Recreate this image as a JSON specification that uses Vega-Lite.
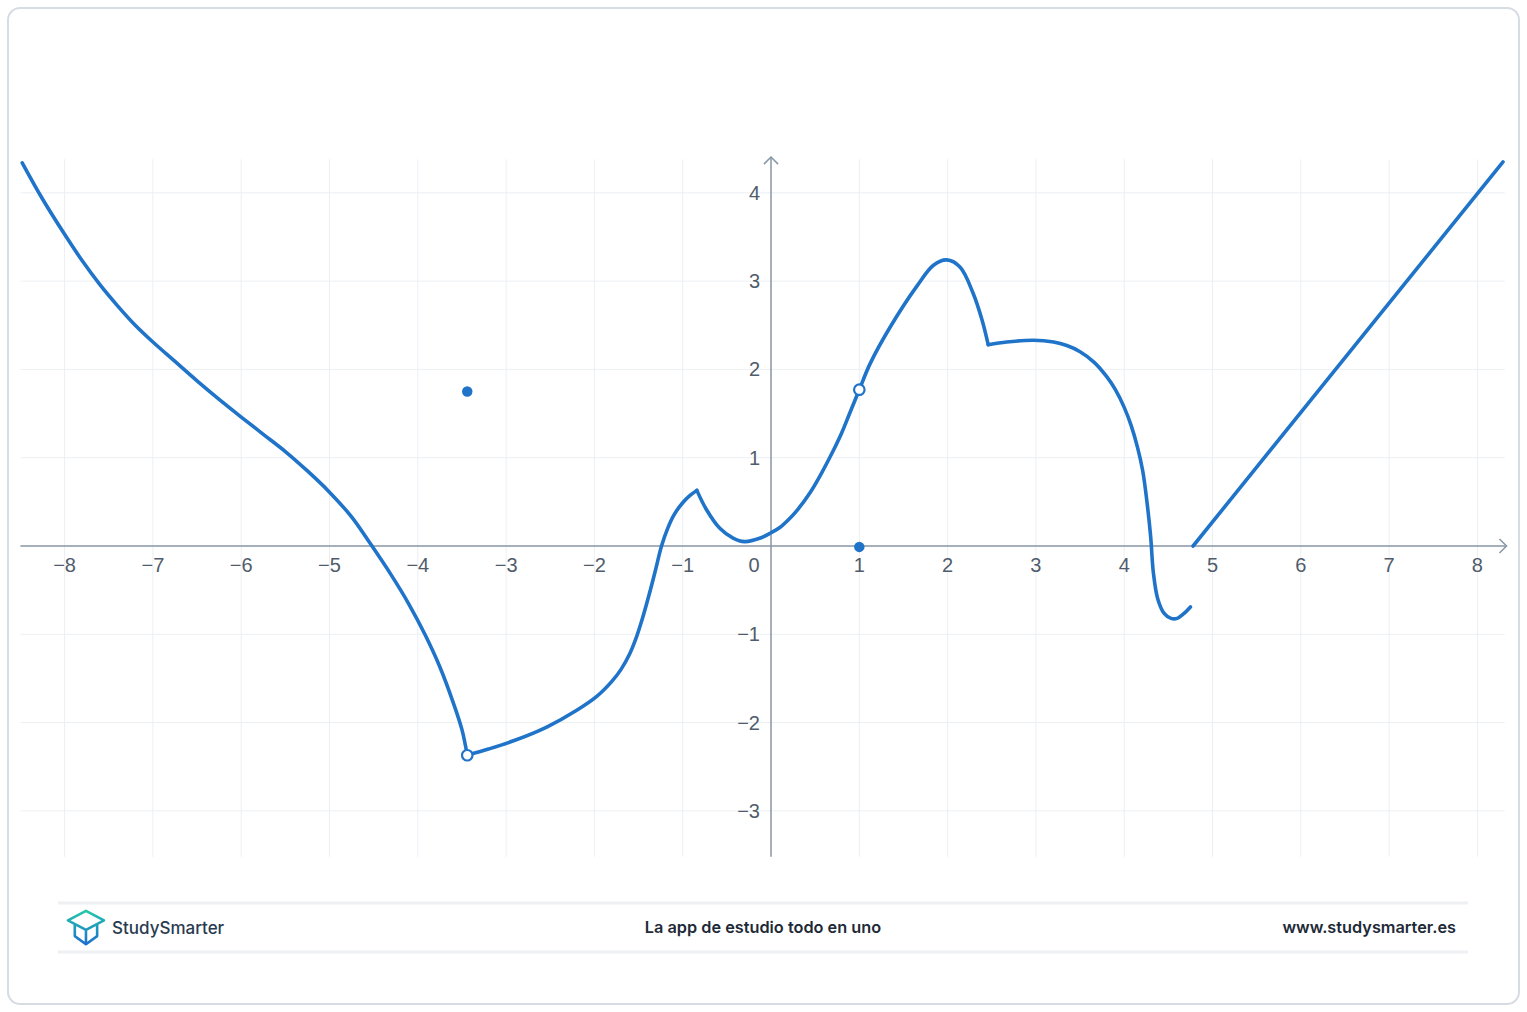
{
  "$schema": "https://vega.github.io/schema/vega-lite/v6.json",
  "width": 1511,
  "height": 996,
  "autosize": "none",
  "padding": {"left": 8, "top": 8, "right": 8, "bottom": 8},
  "background": "white",
  "view": {"stroke": "#d6dce2", "strokeWidth": 2, "cornerRadius": 12, "fill": "white"},
  "datasets": {
    "curve": [
      {"seg": "A", "x": -8.48, "y": 4.34},
      {"seg": "A", "x": -8.25, "y": 3.93},
      {"seg": "A", "x": -8.0, "y": 3.53},
      {"seg": "A", "x": -7.8, "y": 3.23},
      {"seg": "A", "x": -7.6, "y": 2.96},
      {"seg": "A", "x": -7.4, "y": 2.72},
      {"seg": "A", "x": -7.2, "y": 2.5},
      {"seg": "A", "x": -7.0, "y": 2.31},
      {"seg": "A", "x": -6.75, "y": 2.09},
      {"seg": "A", "x": -6.5, "y": 1.87},
      {"seg": "A", "x": -6.25, "y": 1.66},
      {"seg": "A", "x": -6.0, "y": 1.46},
      {"seg": "A", "x": -5.75, "y": 1.265},
      {"seg": "A", "x": -5.5, "y": 1.07},
      {"seg": "A", "x": -5.25, "y": 0.85},
      {"seg": "A", "x": -5.0, "y": 0.61},
      {"seg": "A", "x": -4.75, "y": 0.33},
      {"seg": "A", "x": -4.54, "y": 0.03},
      {"seg": "A", "x": -4.3, "y": -0.33},
      {"seg": "A", "x": -4.1, "y": -0.66},
      {"seg": "A", "x": -3.92, "y": -1.0},
      {"seg": "A", "x": -3.75, "y": -1.37},
      {"seg": "A", "x": -3.6, "y": -1.77},
      {"seg": "A", "x": -3.5, "y": -2.08},
      {"seg": "A", "x": -3.44, "y": -2.37},
      {"seg": "B", "x": -3.44, "y": -2.37},
      {"seg": "B", "x": -3.2, "y": -2.3},
      {"seg": "B", "x": -2.9, "y": -2.2},
      {"seg": "B", "x": -2.54, "y": -2.05},
      {"seg": "B", "x": -2.2, "y": -1.86},
      {"seg": "B", "x": -1.97, "y": -1.7},
      {"seg": "B", "x": -1.8, "y": -1.53},
      {"seg": "B", "x": -1.7, "y": -1.4},
      {"seg": "B", "x": -1.6, "y": -1.22},
      {"seg": "B", "x": -1.52, "y": -1.02},
      {"seg": "B", "x": -1.45, "y": -0.8},
      {"seg": "B", "x": -1.38, "y": -0.55},
      {"seg": "B", "x": -1.31, "y": -0.28},
      {"seg": "B", "x": -1.24, "y": 0.0},
      {"seg": "B", "x": -1.17, "y": 0.2},
      {"seg": "B", "x": -1.1, "y": 0.35},
      {"seg": "B", "x": -1.0, "y": 0.49},
      {"seg": "B", "x": -0.92, "y": 0.57},
      {"seg": "B", "x": -0.84, "y": 0.63},
      {"seg": "C", "x": -0.84, "y": 0.63},
      {"seg": "C", "x": -0.73, "y": 0.41},
      {"seg": "C", "x": -0.58, "y": 0.2},
      {"seg": "C", "x": -0.43, "y": 0.09},
      {"seg": "C", "x": -0.3, "y": 0.05},
      {"seg": "C", "x": -0.12, "y": 0.09},
      {"seg": "C", "x": 0.0, "y": 0.15},
      {"seg": "C", "x": 0.1, "y": 0.21},
      {"seg": "C", "x": 0.2, "y": 0.3},
      {"seg": "C", "x": 0.3, "y": 0.41},
      {"seg": "C", "x": 0.44, "y": 0.6},
      {"seg": "C", "x": 0.58, "y": 0.84},
      {"seg": "C", "x": 0.71, "y": 1.09},
      {"seg": "C", "x": 0.8, "y": 1.28},
      {"seg": "C", "x": 0.89, "y": 1.5},
      {"seg": "C", "x": 1.0, "y": 1.77},
      {"seg": "C", "x": 1.12, "y": 2.06},
      {"seg": "C", "x": 1.35, "y": 2.48},
      {"seg": "C", "x": 1.65, "y": 2.94},
      {"seg": "C", "x": 1.84, "y": 3.18},
      {"seg": "C", "x": 1.99, "y": 3.24},
      {"seg": "C", "x": 2.14, "y": 3.16},
      {"seg": "C", "x": 2.29, "y": 2.86},
      {"seg": "C", "x": 2.39, "y": 2.56},
      {"seg": "C", "x": 2.46, "y": 2.28},
      {"seg": "D", "x": 2.46, "y": 2.28},
      {"seg": "D", "x": 2.67, "y": 2.31},
      {"seg": "D", "x": 2.97, "y": 2.33},
      {"seg": "D", "x": 3.2, "y": 2.31},
      {"seg": "D", "x": 3.35, "y": 2.27},
      {"seg": "D", "x": 3.5, "y": 2.2},
      {"seg": "D", "x": 3.66, "y": 2.08},
      {"seg": "D", "x": 3.8, "y": 1.92},
      {"seg": "D", "x": 3.9, "y": 1.77},
      {"seg": "D", "x": 4.0, "y": 1.57},
      {"seg": "D", "x": 4.08, "y": 1.36},
      {"seg": "D", "x": 4.15, "y": 1.12},
      {"seg": "D", "x": 4.21, "y": 0.85},
      {"seg": "D", "x": 4.26, "y": 0.48},
      {"seg": "D", "x": 4.3, "y": 0.1},
      {"seg": "D", "x": 4.33, "y": -0.3},
      {"seg": "D", "x": 4.38, "y": -0.6},
      {"seg": "D", "x": 4.45, "y": -0.76},
      {"seg": "D", "x": 4.53, "y": -0.82},
      {"seg": "D", "x": 4.6, "y": -0.82},
      {"seg": "D", "x": 4.67, "y": -0.77},
      {"seg": "D", "x": 4.75, "y": -0.69},
      {"seg": "E", "x": 4.78, "y": 0.0},
      {"seg": "E", "x": 8.29, "y": 4.35}
    ],
    "filled": [
      {"x": -3.44, "y": 1.75},
      {"x": 1.0, "y": -0.01}
    ],
    "open": [
      {"x": -3.44, "y": -2.37},
      {"x": 1.0, "y": 1.77}
    ],
    "gridX": [
      {"v": -8}, {"v": -7}, {"v": -6}, {"v": -5}, {"v": -4}, {"v": -3}, {"v": -2}, {"v": -1},
      {"v": 1}, {"v": 2}, {"v": 3}, {"v": 4}, {"v": 5}, {"v": 6}, {"v": 7}, {"v": 8}
    ],
    "gridY": [
      {"v": -3}, {"v": -2}, {"v": -1}, {"v": 1}, {"v": 2}, {"v": 3}, {"v": 4}
    ],
    "ticksX": [
      {"v": -8, "t": "−8"}, {"v": -7, "t": "−7"}, {"v": -6, "t": "−6"}, {"v": -5, "t": "−5"},
      {"v": -4, "t": "−4"}, {"v": -3, "t": "−3"}, {"v": -2, "t": "−2"}, {"v": -1, "t": "−1"},
      {"v": 1, "t": "1"}, {"v": 2, "t": "2"}, {"v": 3, "t": "3"}, {"v": 4, "t": "4"},
      {"v": 5, "t": "5"}, {"v": 6, "t": "6"}, {"v": 7, "t": "7"}, {"v": 8, "t": "8"}
    ],
    "ticksY": [
      {"v": -3, "t": "−3"}, {"v": -2, "t": "−2"}, {"v": -1, "t": "−1"},
      {"v": 1, "t": "1"}, {"v": 2, "t": "2"}, {"v": 3, "t": "3"}, {"v": 4, "t": "4"}
    ],
    "one": [{}]
  },
  "layer": [
    {
      "data": {"name": "gridX"},
      "mark": {"type": "rule", "color": "#eceff2", "strokeWidth": 1},
      "encoding": {
        "x": {"field": "v", "type": "quantitative", "scale": {"domain": [-8.641, 8.471], "nice": false, "zero": false}, "axis": null},
        "y": {"datum": -3.52, "type": "quantitative", "scale": {"domain": [-5.187, 6.093], "nice": false, "zero": false}, "axis": null},
        "y2": {"datum": 4.38}
      }
    },
    {
      "data": {"name": "gridY"},
      "mark": {"type": "rule", "color": "#eceff2", "strokeWidth": 1},
      "encoding": {
        "y": {"field": "v", "type": "quantitative", "scale": {"domain": [-5.187, 6.093], "nice": false, "zero": false}, "axis": null},
        "x": {"datum": -8.5, "type": "quantitative", "scale": {"domain": [-8.641, 8.471], "nice": false, "zero": false}, "axis": null},
        "x2": {"datum": 8.31}
      }
    },
    {
      "data": {"name": "one"},
      "mark": {"type": "rule", "color": "#8896a5", "strokeWidth": 1.5},
      "encoding": {
        "x": {"datum": -8.5, "type": "quantitative", "scale": {"domain": [-8.641, 8.471], "nice": false, "zero": false}, "axis": null},
        "x2": {"datum": 8.33},
        "y": {"datum": 0, "type": "quantitative", "scale": {"domain": [-5.187, 6.093], "nice": false, "zero": false}, "axis": null}
      }
    },
    {
      "data": {"name": "one"},
      "mark": {"type": "rule", "color": "#8896a5", "strokeWidth": 1.5},
      "encoding": {
        "x": {"datum": 0, "type": "quantitative", "scale": {"domain": [-8.641, 8.471], "nice": false, "zero": false}, "axis": null},
        "y": {"datum": -3.52, "type": "quantitative", "scale": {"domain": [-5.187, 6.093], "nice": false, "zero": false}, "axis": null},
        "y2": {"datum": 4.405}
      }
    },
    {
      "data": {"name": "one"},
      "mark": {"type": "point", "shape": "M-1,-1L0,0L-1,1", "filled": false, "stroke": "#8896a5", "strokeWidth": 1.5, "size": 200, "opacity": 1},
      "encoding": {
        "x": {"datum": 8.33, "type": "quantitative", "scale": {"domain": [-8.641, 8.471], "nice": false, "zero": false}, "axis": null},
        "y": {"datum": 0, "type": "quantitative", "scale": {"domain": [-5.187, 6.093], "nice": false, "zero": false}, "axis": null}
      }
    },
    {
      "data": {"name": "one"},
      "mark": {"type": "point", "shape": "M-1,1L0,0L1,1", "filled": false, "stroke": "#8896a5", "strokeWidth": 1.5, "size": 200, "opacity": 1},
      "encoding": {
        "x": {"datum": 0, "type": "quantitative", "scale": {"domain": [-8.641, 8.471], "nice": false, "zero": false}, "axis": null},
        "y": {"datum": 4.405, "type": "quantitative", "scale": {"domain": [-5.187, 6.093], "nice": false, "zero": false}, "axis": null}
      }
    },
    {
      "data": {"name": "ticksX"},
      "mark": {"type": "text", "font": "Liberation Sans", "fontSize": 20, "color": "#505c6b", "align": "center", "baseline": "middle", "dy": 20},
      "encoding": {
        "x": {"field": "v", "type": "quantitative", "scale": {"domain": [-8.641, 8.471], "nice": false, "zero": false}, "axis": null},
        "y": {"datum": 0, "type": "quantitative", "scale": {"domain": [-5.187, 6.093], "nice": false, "zero": false}, "axis": null},
        "text": {"field": "t"}
      }
    },
    {
      "data": {"name": "ticksY"},
      "mark": {"type": "text", "font": "Liberation Sans", "fontSize": 20, "color": "#505c6b", "align": "right", "baseline": "middle", "dx": -11, "dy": 1},
      "encoding": {
        "y": {"field": "v", "type": "quantitative", "scale": {"domain": [-5.187, 6.093], "nice": false, "zero": false}, "axis": null},
        "x": {"datum": 0, "type": "quantitative", "scale": {"domain": [-8.641, 8.471], "nice": false, "zero": false}, "axis": null},
        "text": {"field": "t"}
      }
    },
    {
      "data": {"name": "one"},
      "mark": {"type": "text", "font": "Liberation Sans", "fontSize": 20, "color": "#505c6b", "align": "center", "baseline": "middle", "dx": -17, "dy": 20, "text": "0"},
      "encoding": {
        "x": {"datum": 0, "type": "quantitative", "scale": {"domain": [-8.641, 8.471], "nice": false, "zero": false}, "axis": null},
        "y": {"datum": 0, "type": "quantitative", "scale": {"domain": [-5.187, 6.093], "nice": false, "zero": false}, "axis": null}
      }
    },
    {
      "data": {"name": "curve"},
      "mark": {"type": "line", "color": "#1f74c9", "strokeWidth": 3.6, "interpolate": "catmull-rom", "strokeCap": "round", "strokeJoin": "round"},
      "encoding": {
        "x": {"field": "x", "type": "quantitative", "scale": {"domain": [-8.641, 8.471], "nice": false, "zero": false}, "axis": null},
        "y": {"field": "y", "type": "quantitative", "scale": {"domain": [-5.187, 6.093], "nice": false, "zero": false}, "axis": null},
        "detail": {"field": "seg", "type": "nominal"}
      }
    },
    {
      "data": {"name": "filled"},
      "mark": {"type": "point", "shape": "circle", "filled": true, "color": "#1f74c9", "size": 110, "opacity": 1},
      "encoding": {
        "x": {"field": "x", "type": "quantitative", "scale": {"domain": [-8.641, 8.471], "nice": false, "zero": false}, "axis": null},
        "y": {"field": "y", "type": "quantitative", "scale": {"domain": [-5.187, 6.093], "nice": false, "zero": false}, "axis": null}
      }
    },
    {
      "data": {"name": "open"},
      "mark": {"type": "point", "shape": "circle", "filled": true, "fill": "white", "stroke": "#1f74c9", "strokeWidth": 2.2, "size": 110, "opacity": 1},
      "encoding": {
        "x": {"field": "x", "type": "quantitative", "scale": {"domain": [-8.641, 8.471], "nice": false, "zero": false}, "axis": null},
        "y": {"field": "y", "type": "quantitative", "scale": {"domain": [-5.187, 6.093], "nice": false, "zero": false}, "axis": null}
      }
    },
    {
      "data": {"name": "one"},
      "mark": {"type": "rule", "color": "#eef0f3", "strokeWidth": 3},
      "encoding": {
        "x": {"datum": -8.075, "type": "quantitative", "scale": {"domain": [-8.641, 8.471], "nice": false, "zero": false}, "axis": null},
        "x2": {"datum": 7.894},
        "y": {"datum": -4.043, "type": "quantitative", "scale": {"domain": [-5.187, 6.093], "nice": false, "zero": false}, "axis": null}
      }
    },
    {
      "data": {"name": "one"},
      "mark": {"type": "rule", "color": "#eef0f3", "strokeWidth": 3},
      "encoding": {
        "x": {"datum": -8.075, "type": "quantitative", "scale": {"domain": [-8.641, 8.471], "nice": false, "zero": false}, "axis": null},
        "x2": {"datum": 7.894},
        "y": {"datum": -4.598, "type": "quantitative", "scale": {"domain": [-5.187, 6.093], "nice": false, "zero": false}, "axis": null}
      }
    },
    {
      "data": {"name": "one"},
      "mark": {
        "type": "point",
        "shape": "M0,-0.95L1,-0.42L0,0.1L-1,-0.42Z M-0.62,-0.22L-0.62,0.45L0,0.9L0.62,0.45L0.62,-0.22 M0,0.1L0,0.9",
        "filled": false,
        "strokeWidth": 2.6,
        "size": 1300,
        "opacity": 1,
        "strokeJoin": "round",
        "stroke": {"gradient": "linear", "x1": 0, "y1": 0, "x2": 0, "y2": 1, "stops": [{"offset": 0, "color": "#25c6a9"}, {"offset": 1, "color": "#1c6fd0"}]}
      },
      "encoding": {
        "x": {"datum": -7.758, "type": "quantitative", "scale": {"domain": [-8.641, 8.471], "nice": false, "zero": false}, "axis": null},
        "y": {"datum": -4.326, "type": "quantitative", "scale": {"domain": [-5.187, 6.093], "nice": false, "zero": false}, "axis": null}
      }
    },
    {
      "data": {"name": "one"},
      "mark": {"type": "text", "text": "StudySmarter", "font": "Inter", "fontSize": 17, "fontWeight": 500, "color": "#2a3b50", "align": "left", "baseline": "middle"},
      "encoding": {
        "x": {"datum": -7.463, "type": "quantitative", "scale": {"domain": [-8.641, 8.471], "nice": false, "zero": false}, "axis": null},
        "y": {"datum": -4.34, "type": "quantitative", "scale": {"domain": [-5.187, 6.093], "nice": false, "zero": false}, "axis": null}
      }
    },
    {
      "data": {"name": "one"},
      "mark": {"type": "text", "text": "La app de estudio todo en uno", "font": "Inter", "fontSize": 16.3, "fontWeight": 600, "color": "#1e2a38", "align": "center", "baseline": "middle"},
      "encoding": {
        "x": {"datum": -0.091, "type": "quantitative", "scale": {"domain": [-8.641, 8.471], "nice": false, "zero": false}, "axis": null},
        "y": {"datum": -4.33, "type": "quantitative", "scale": {"domain": [-5.187, 6.093], "nice": false, "zero": false}, "axis": null}
      }
    },
    {
      "data": {"name": "one"},
      "mark": {"type": "text", "text": "www.studysmarter.es", "font": "Inter", "fontSize": 16.3, "fontWeight": 600, "color": "#1e2a38", "align": "right", "baseline": "middle"},
      "encoding": {
        "x": {"datum": 7.758, "type": "quantitative", "scale": {"domain": [-8.641, 8.471], "nice": false, "zero": false}, "axis": null},
        "y": {"datum": -4.33, "type": "quantitative", "scale": {"domain": [-5.187, 6.093], "nice": false, "zero": false}, "axis": null}
      }
    }
  ]
}
